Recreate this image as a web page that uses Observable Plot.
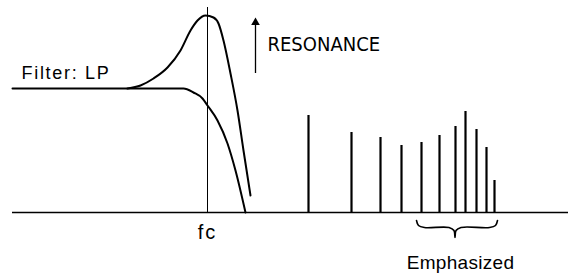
<!DOCTYPE html>
<html>
<head>
<meta charset="utf-8">
<script src="https://cdn.jsdelivr.net/npm/d3@7"></script>
<script src="https://cdn.jsdelivr.net/npm/@observablehq/plot@0.6"></script>
<style>
  html, body { margin: 0; padding: 0; background: #fff; }
  #chart svg { display: block; }
</style>
</head>
<body>
<div id="chart"></div>
<script>
// Data (frequency positions and amplitudes, baseline amplitude = 0)
const lpFreq   = [12, 183, 193, 202, 207, 217, 227, 235, 245];
const lpAmp    = [124, 124, 120, 114, 107, 92, 69, 42, 0];
const resFreq  = [127, 140, 153, 167, 180, 190, 197, 205, 213, 218, 223, 230, 237, 243, 250];
const resAmp   = [124, 127, 134, 145, 162, 182, 192, 197, 195, 189, 172, 139, 102, 62, 17];
const harmonicFreq = [308, 351, 380, 401, 421, 439, 455, 465, 476, 486, 494];
const harmonicAmp  = [97, 80, 75, 67, 70, 77, 86, 101, 83, 65, 32];
const cutoffFreq = 207;
const emphasizedRange = [416, 497];
const labels = ["Filter: LP", "RESONANCE", "fc", "Emphasized"];

const lp = lpFreq.map((f, i) => ({f, a: lpAmp[i]}));
const res = resFreq.map((f, i) => ({f, a: resAmp[i]}));
const harmonics = harmonicFreq.map((f, i) => ({f, a: harmonicAmp[i]}));

// curly brace under the emphasized range
function brace([x0, x1]) {
  const xm = (x0 + x1) / 2 - 2;
  const top = -8, mid = -15, tip = -25;
  return [
    {f: x0, a: top}, {f: x0 + 2, a: mid + 2}, {f: x0 + 8, a: mid},
    {f: xm - 6, a: mid}, {f: xm - 1, a: mid - 3}, {f: xm, a: tip},
    {f: xm + 1, a: mid - 3}, {f: xm + 6, a: mid},
    {f: x1 - 8, a: mid}, {f: x1 - 2, a: mid + 2}, {f: x1, a: top}
  ];
}

const font = "'Liberation Sans', Arial, Helvetica, sans-serif";
const narrow = "'Liberation Sans Narrow', 'DejaVu Sans Condensed', 'Liberation Sans', sans-serif";

const chart = Plot.plot({
  width: 569,
  height: 273,
  margin: 0,
  x: {domain: [0, 569], axis: null},
  y: {domain: [-61, 212], axis: null},
  style: {background: "#fff", color: "#000"},
  marks: [
    Plot.ruleY([0], {x1: 12, x2: 568, stroke: "#000", strokeWidth: 1.5}),
    Plot.ruleX([cutoffFreq], {y1: 0, y2: 205, stroke: "#000", strokeWidth: 1}),
    Plot.line(lp, {x: "f", y: "a", curve: "monotone-x", stroke: "#000", strokeWidth: 2}),
    Plot.line(res, {x: "f", y: "a", curve: "monotone-x", stroke: "#000", strokeWidth: 2}),
    Plot.ruleX(harmonics, {x: "f", y1: 0, y2: "a", stroke: "#000", strokeWidth: 2.2}),
    Plot.line(brace(emphasizedRange), {x: "f", y: "a", curve: "catmull-rom", stroke: "#000", strokeWidth: 1.6}),
    // resonance arrow
    Plot.ruleX([255], {y1: 139, y2: 188, stroke: "#000", strokeWidth: 1.3}),
    Plot.dot([{f: 255, a: 190}], {x: "f", y: "a", symbol: "triangle", r: 3.2, fill: "#000", stroke: null}),
    Plot.text([labels[0]], {x: 21, y: 134, text: d => d, textAnchor: "start", lineAnchor: "bottom", fontSize: 18, fontFamily: font, fill: "#000"}),
    Plot.text([labels[1]], {x: 267, y: 162, text: d => d, textAnchor: "start", lineAnchor: "bottom", fontSize: 20, fontFamily: narrow, fill: "#000"}),
    Plot.text([labels[2]], {x: cutoffFreq, y: -26, text: d => d, textAnchor: "middle", lineAnchor: "bottom", fontSize: 20, fontFamily: font, fill: "#000"}),
    Plot.text([labels[3]], {x: 460, y: -56, text: d => d, textAnchor: "middle", lineAnchor: "bottom", fontSize: 19, fontFamily: font, fill: "#000"})
  ]
});
const spacing = {"Filter: LP": "1.7px", "fc": "2px", "Emphasized": "0.3px"};
d3.select(chart).selectAll("text").each(function() {
  const s = spacing[this.textContent];
  if (s) this.style.letterSpacing = s;
});
document.getElementById("chart").append(chart);
</script>
</body>
</html>
